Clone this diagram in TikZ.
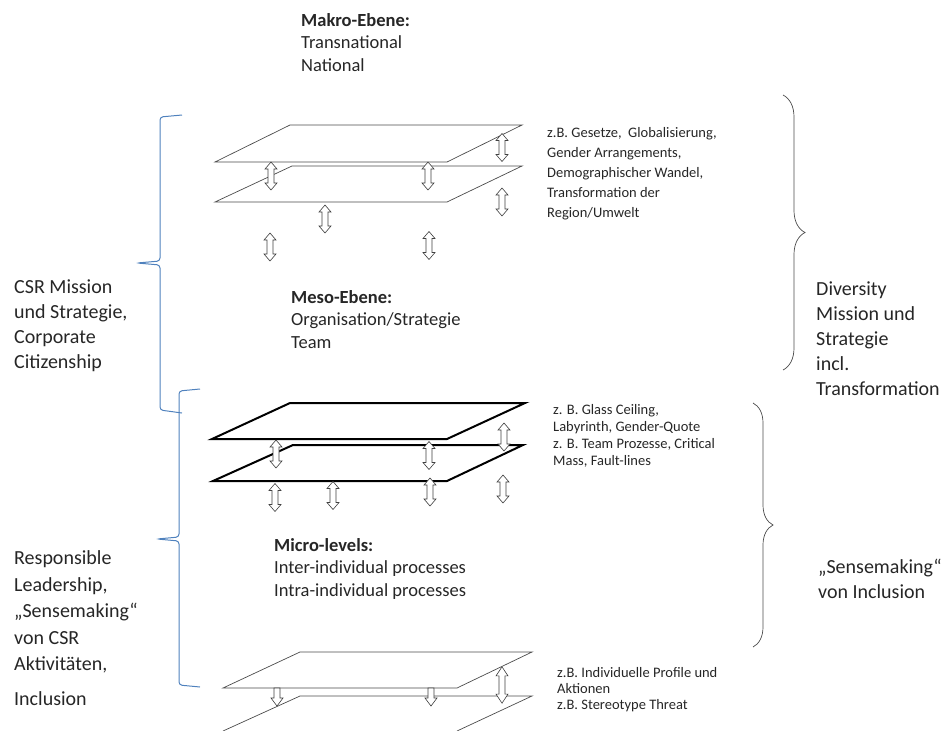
\documentclass[tikz,border=0pt]{standalone}
\usepackage{fontspec}
\setmainfont{Carlito}
\usetikzlibrary{decorations.pathreplacing}
\definecolor{bracketblue}{HTML}{4F81BD}
\tikzset{
  plane/.style={draw=black!70, line width=0.7pt, fill=white},
  boldplane/.style={draw=black, line width=2pt, fill=white, line join=miter},
  arrowline/.style={draw=black!75, line width=0.6pt, fill=white},
  dblarrow/.pic={\draw[arrowline] (0,-14) -- (6,-7) -- (3,-7) -- (3,7) -- (6,7) -- (0,14) -- (-6,7) -- (-3,7) -- (-3,-7) -- (-6,-7) -- cycle;},
  downarrow/.pic={\draw[arrowline] (-3,0) -- (3,0) -- (3,10) -- (6,10) -- (0,18) -- (-6,10) -- (-3,10) -- cycle;},
  headtext/.style={font=\fontsize{18.5}{22.5}\selectfont, align=left, anchor=north west, inner sep=0pt, text=black!85},
  sidetext/.style={font=\fontsize{20}{25}\selectfont, align=left, anchor=north west, inner sep=0pt, text=black!85},
  notetext/.style={font=\fontsize{14.5}{20}\selectfont, align=left, anchor=north west, inner sep=0pt, text=black!85},
  curly/.style={draw=black!70, line width=0.7pt, decorate},
  bluebracket/.style={draw=bracketblue, line width=1pt, rounded corners=3pt}
}
\begin{document}
\begin{tikzpicture}[x=1pt, y=-1pt]
\useasboundingbox (0,0) rectangle (948,731);

% Makro-Ebene
\draw[plane] (215,202) -- (292,166) -- (522,166) -- (447,202) -- cycle;
\draw[plane] (215,162) -- (290,125) -- (522,125) -- (447,162) -- cycle;
\pic at (271,176) {dblarrow};
\pic at (428,176) {dblarrow};
\pic at (502,147.5) {dblarrow};
\pic at (502,202) {dblarrow};
\pic at (325,219) {dblarrow};
\pic at (270,247) {dblarrow};
\pic at (429,245.5) {dblarrow};

% Meso-Ebene
\draw[boldplane] (213,481) -- (293,445) -- (523,445) -- (447,481) -- cycle;
\draw[boldplane] (212,439) -- (290,403) -- (525,403) -- (447,439) -- cycle;
\pic at (276,454) {dblarrow};
\pic at (429,455.5) {dblarrow};
\pic at (504,437) {dblarrow};
\pic at (275,497.5) {dblarrow};
\pic at (333,495.5) {dblarrow};
\pic at (430,492) {dblarrow};
\pic at (503,489) {dblarrow};

% Micro-levels
\draw[plane] (223,731) -- (300,696) -- (532,696) -- (457,731);
\draw[plane] (223,688) -- (300,652) -- (532,652) -- (457,688) -- cycle;
\pic at (277,688) {downarrow};
\pic at (431,688) {downarrow};
\pic[yscale=1.3] at (502,685) {dblarrow};

% texts
\node[headtext] (makro) at (301,13) {\textbf{Makro-Ebene:}\\Transnational\\National};
\node[headtext] (meso) at (291,290) {\textbf{Meso-Ebene:}\\Organisation/Strategie\\Team};
\node[headtext] (micro) at (274,538) {\textbf{Micro-levels:}\\Inter-individual processes\\Intra-individual processes};
\node[notetext] (gesetze) at (547,127.5) {z.B. Gesetze,\ \ Globalisierung,\\Gender Arrangements,\\Demographischer Wandel,\\Transformation der\\Region/Umwelt};
\node[notetext, font=\fontsize{14.5}{17}\selectfont] (glass) at (553,404.5) {z. B. Glass Ceiling,\\Labyrinth, Gender-Quote\\z. B. Team Prozesse, Critical\\Mass, Fault-lines};
\node[notetext, font=\fontsize{14.5}{16}\selectfont] (profile) at (557,667.5) {z.B. Individuelle Profile und\\Aktionen\\z.B. Stereotype Threat};
\node[sidetext] (csr) at (14,279.5) {CSR Mission\\und Strategie,\\Corporate\\Citizenship};
\node[sidetext, font=\fontsize{20}{26.5}\selectfont] (leader) at (14,550.5) {Responsible\\Leadership,\\„Sensemaking“\\von CSR\\Aktivitäten,\\[8pt]Inclusion};
\node[sidetext] (diversity) at (816,281.5) {Diversity\\Mission und\\Strategie\\incl.\\Transformation};
\node[sidetext] (sense) at (818,558.5) {„Sensemaking“\\von Inclusion};

% braces
\draw[bluebracket] (182,115) -- (160,117) -- (160,261) -- (137,263) -- (160,265) -- (160,410) -- (182,413);
\draw[bluebracket] (200,389) -- (179,391) -- (179,537) -- (157,539) -- (179,541) -- (179,685) -- (200,687);
\draw[curly, decoration={brace, amplitude=22pt}] (783,95) -- (783,370);
\draw[curly, decoration={brace, amplitude=20pt}] (753,403) -- (753,647);
\end{tikzpicture}
\end{document}
